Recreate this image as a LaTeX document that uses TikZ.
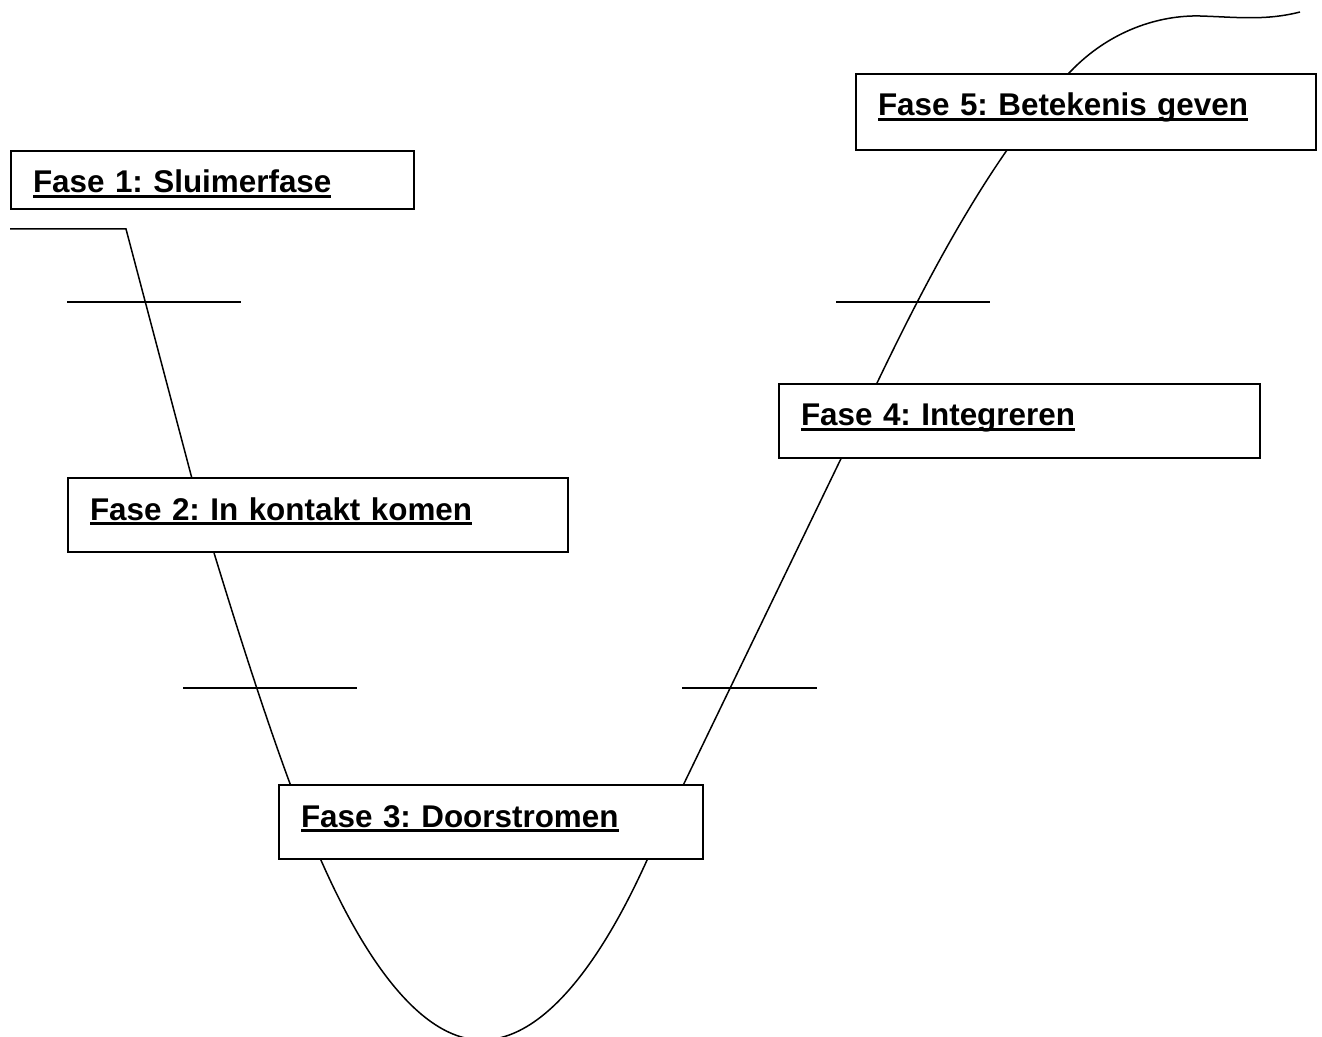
\documentclass[tikz,border=0pt]{standalone}
\usepackage{fontspec}
\setmainfont{Liberation Sans}
\usepackage{tikz}

% underline at a fixed height, as in the original
\newcommand{\onderlijn}[1]{\setbox0\hbox{#1}\rlap{\vrule width\wd0 height -1.2pt depth 2.7pt}\box0}

\tikzset{
    fase/.style={draw, fill=white, line width=1pt, anchor=north west,
        inner xsep=11pt, inner ysep=0pt, text height=21pt, align=left,
        font=\bfseries\fontsize{15.7}{19}\selectfont\frenchspacing},
    kromme/.style={line width=0.75pt},
    streep/.style={line width=1pt}
}

\begin{document}
\begin{tikzpicture}[x=0.5pt, y=-0.5pt]
            \useasboundingbox (0,0) rectangle (1322,1037);

            % Curve (behind the boxes)
            \draw[kromme] (10,229) -- (126,229) -- (195,490)
                .. controls (228,600) and (280,770) .. (320,858)
                parabola bend (482,1040) (648,858)
                -- (850,440)
                .. controls (895,345) and (975,170) .. (1070,72)
                .. controls (1110,30) and (1160,15) .. (1200,16)
                .. controls (1235,17) and (1265,21) .. (1300,12);

            % Separators
            \draw[streep] (67,302) -- (241,302);
            \draw[streep] (183,688) -- (357,688);
            \draw[streep] (682,688) -- (817,688);
            \draw[streep] (836,302) -- (990,302);

            % Fase 1
            \node[fase, text width=179.5pt, text depth=8pt] (fase1) at (10,150) {\onderlijn{Fase 1: Sluimerfase}};

            % Fase 2
            \node[fase, text width=228pt, text depth=16pt] (fase2) at (67,477) {\onderlijn{Fase 2: In kontakt komen}};

            % Fase 3
            \node[fase, text width=190pt, text depth=16pt] (fase3) at (278,784) {\onderlijn{Fase 3: Doorstromen}};

            % Fase 4
            \node[fase, text width=218.5pt, text depth=16pt] (fase4) at (778,383) {\onderlijn{Fase 4: Integreren}};

            % Fase 5
            \node[fase, text width=208pt, text depth=17pt] (fase5) at (855,73) {\onderlijn{Fase 5: Betekenis geven}};
        \end{tikzpicture}
\end{document}
